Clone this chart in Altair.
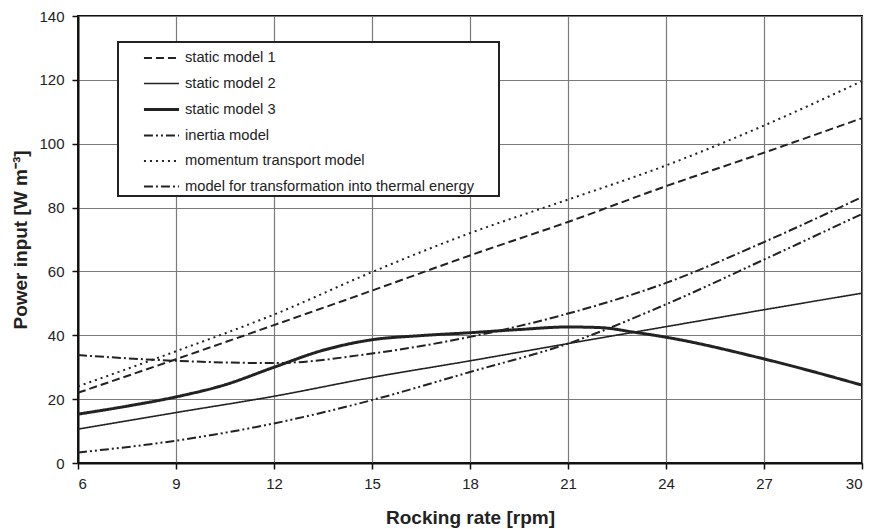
import altair as alt
import pandas as pd

series_order = [
    "static model 1",
    "static model 2",
    "static model 3",
    "inertia model",
    "momentum transport model",
    "model for transformation into thermal energy",
]

x_std = [6, 9, 12, 15, 18, 21, 24, 27, 30]
static1 = [22, 32.5, 43.2, 54, 65, 75.5, 86.7, 97.2, 108]
static2 = [10.6, 15.8, 20.9, 26.8, 32, 37.4, 42.7, 48, 53.2]
momentum = [24, 35, 46.5, 59.8, 72, 82.5, 93.2, 105.7, 119.6]
inertia = [3.3, 7, 12.4, 19.7, 28.5, 37.4, 49.7, 63.7, 78]
thermal = [33.8, 32, 31.3, 34.3, 39.5, 46.8, 56.4, 69.2, 83.3]

x_s3 = [6, 7.5, 9, 10.5, 12, 13.5, 15, 16.5, 18, 19.5, 21, 22, 23, 24, 27, 30]
static3 = [15.3, 17.8, 20.7, 24.5, 30, 35.3, 38.6, 39.9, 40.8, 41.8, 42.6, 42.4, 41, 39.4, 32.6, 24.4]

rows = []
for name, xs, ys in [
    ("static model 1", x_std, static1),
    ("static model 2", x_std, static2),
    ("static model 3", x_s3, static3),
    ("inertia model", x_std, inertia),
    ("momentum transport model", x_std, momentum),
    ("model for transformation into thermal energy", x_std, thermal),
]:
    for x, y in zip(xs, ys):
        rows.append({"series": name, "rpm": x, "power": y})
df = pd.DataFrame(rows)

dashes = [[8, 4], [1, 0], [1, 0], [9, 3, 2, 3, 2, 3], [2, 4], [9, 3, 2, 3]]
widths = [2, 1.6, 3, 2, 2, 2]

legend = alt.Legend(
    title="MMM",
    titleOrient="right",
    titleOpacity=0,
    titleFontSize=8,
    titlePadding=3,
    orient="none",
    legendX=40,
    legendY=26,
    fillColor="white",
    padding=2,
    symbolOffset=27,
    symbolType="M-1.35,0H1.35",
    symbolSize=676,
    symbolStrokeColor="#222",
    labelFont="Liberation Sans",
    labelFontSize=14.7,
    labelColor="#222",
    rowPadding=4.5,
    labelOffset=9,
    labelLimit=500,
)

chart = (
    alt.Chart(df)
    .mark_line(color="#222", interpolate="monotone")
    .encode(
        x=alt.X(
            "rpm:Q",
            scale=alt.Scale(domain=[6, 30], nice=False, zero=False),
            axis=alt.Axis(values=[6, 9, 12, 15, 18, 21, 24, 27, 30], title="Rocking rate [rpm]"),
        ),
        y=alt.Y(
            "power:Q",
            scale=alt.Scale(domain=[0, 140], nice=False),
            axis=alt.Axis(
                values=[0, 20, 40, 60, 80, 100, 120, 140],
                title="Power input [W m⁻³]",
            ),
        ),
        strokeDash=alt.StrokeDash(
            "series:N",
            scale=alt.Scale(domain=series_order, range=dashes),
            legend=legend,
        ),
        strokeWidth=alt.StrokeWidth(
            "series:N",
            scale=alt.Scale(type="ordinal", domain=series_order, range=widths),
            legend=legend,
        ),
        detail="series:N",
    )
    .properties(
        width=784,
        height=447,
        autosize=alt.AutoSizeParams(type="none"),
        padding={"left": 70, "top": 8, "right": 5, "bottom": 66},
    )
    .configure_view(stroke="#111", strokeWidth=2)
    .configure_legend(strokeColor="#222", strokeWidth=2)
    .configure_axis(
        labelFont="Liberation Sans",
        labelFontSize=15,
        labelColor="#222",
        titleFont="Liberation Sans",
        titleFontSize=19,
        titleFontWeight="bold",
        titleColor="#222",
        gridColor="#7a7a7a",
        gridWidth=1.2,
        gridOpacity=1,
        domainColor="#111",
        domainWidth=2,
        tickColor="#111",
        tickSize=6,
        tickWidth=1.5,
    )
    .configure_axisX(labelPadding=7, titlePadding=17)
    .configure_axisY(labelPadding=8, titlePadding=8)
)

chart.save("out.html", embed_options={"renderer": "svg", "actions": False})
